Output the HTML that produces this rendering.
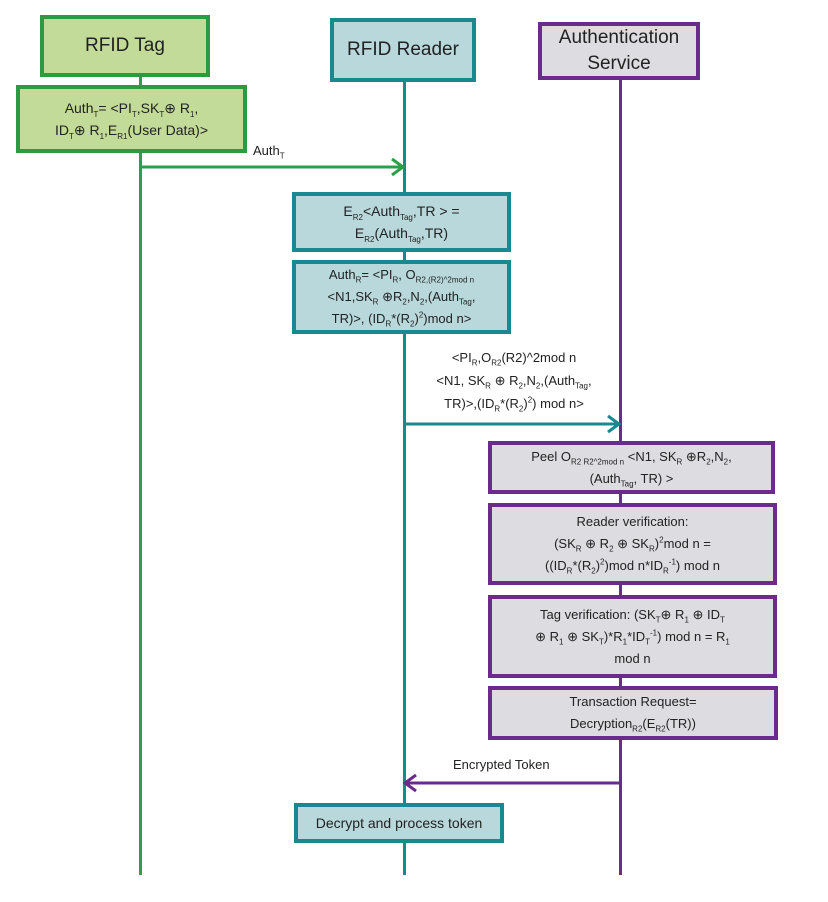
<!DOCTYPE html>
<html><head><meta charset="utf-8"><style>
body{margin:0;width:828px;height:902px;background:#fff;position:relative;overflow:hidden;font-family:"Liberation Sans",sans-serif;color:#222}
.b{position:absolute;box-sizing:border-box;display:flex;align-items:center;justify-content:center;text-align:center;font-size:14px;line-height:22px}
.b>span{display:block}
.g{background:#c3db98;border:4px solid #2c9a42}
.t{background:#b8d8dc;border:4px solid #17898f}
.p{background:#dddce1;border:4px solid #6a2b8c}
.l{position:absolute;width:3px}
.lab{position:absolute;font-size:13px;line-height:23px;text-align:center;white-space:nowrap}
sub,sup{font-size:8px;line-height:0}
</style></head><body>
<div class="l" style="left:139px;top:75px;height:800px;background:#2ca048"></div>
<div class="l" style="left:403px;top:80px;height:795px;background:#17898f"></div>
<div class="l" style="left:619px;top:78px;height:797px;background:#6a2b8c"></div>

<div class="b g" style="left:40px;top:15px;width:170px;height:62px;font-size:19px"><span>RFID Tag</span></div>
<div class="b t" style="left:330px;top:18px;width:146px;height:64px;font-size:19px"><span>RFID Reader</span></div>
<div class="b p" style="left:538px;top:22px;width:162px;height:58px;font-size:19px;line-height:26px"><span>Authentication<br>Service</span></div>

<div class="b g" style="left:16px;top:85px;width:231px;height:68px"><span>Auth<sub>T</sub>= &lt;PI<sub>T</sub>,SK<sub>T</sub>⊕ R<sub>1</sub>,<br>ID<sub>T</sub>⊕ R<sub>1</sub>,E<sub>R1</sub>(User Data)&gt;</span></div>
<div class="lab" style="left:253px;top:139px">Auth<sub>T</sub></div>

<svg style="position:absolute;left:0;top:0" width="828" height="902">
<line x1="141" y1="167" x2="403" y2="167" stroke="#2ca048" stroke-width="3"/>
<polyline points="392,159 403,167 392,175" fill="none" stroke="#2ca048" stroke-width="3"/>
<line x1="405" y1="424" x2="619" y2="424" stroke="#17898f" stroke-width="3"/>
<polyline points="608,416 619,424 608,432" fill="none" stroke="#17898f" stroke-width="3"/>
<line x1="405" y1="783" x2="619" y2="783" stroke="#6a2b8c" stroke-width="3"/>
<polyline points="416,775 405,783 416,791" fill="none" stroke="#6a2b8c" stroke-width="3"/>
</svg>

<div class="b t" style="left:292px;top:192px;width:219px;height:60px"><span>E<sub>R2</sub>&lt;Auth<sub>Tag</sub>,TR &gt; =<br>E<sub>R2</sub>(Auth<sub>Tag</sub>,TR)</span></div>
<div class="b t" style="left:292px;top:260px;width:219px;height:74px;font-size:13px;line-height:22px"><span>Auth<sub>R</sub>= &lt;PI<sub>R</sub>, O<sub>R2,(R2)^2mod n</sub><br>&lt;N1,SK<sub>R</sub> ⊕R<sub>2</sub>,N<sub>2</sub>,(Auth<sub>Tag</sub>,<br>TR)&gt;, (ID<sub>R</sub>*(R<sub>2</sub>)<sup>2</sup>)mod n&gt;</span></div>

<div class="lab" style="left:414px;top:346px;width:200px">&lt;PI<sub>R</sub>,O<sub>R2</sub>(R2)^2mod n<br>&lt;N1, SK<sub>R</sub> ⊕ R<sub>2</sub>,N<sub>2</sub>,(Auth<sub>Tag</sub>,<br>TR)&gt;,(ID<sub>R</sub>*(R<sub>2</sub>)<sup>2</sup>) mod n&gt;</div>

<div class="b p" style="left:488px;top:441px;width:287px;height:53px;font-size:13px"><span>Peel O<sub>R2 R2^2mod n</sub> &lt;N1, SK<sub>R</sub> ⊕R<sub>2</sub>,N<sub>2</sub>,<br>(Auth<sub>Tag</sub>, TR) &gt;</span></div>
<div class="b p" style="left:488px;top:503px;width:289px;height:82px;font-size:13px"><span>Reader verification:<br>(SK<sub>R</sub> ⊕ R<sub>2</sub> ⊕ SK<sub>R</sub>)<sup>2</sup>mod n =<br>((ID<sub>R</sub>*(R<sub>2</sub>)<sup>2</sup>)mod n*ID<sub>R</sub><sup>-1</sup>) mod n</span></div>
<div class="b p" style="left:488px;top:595px;width:289px;height:83px;font-size:13px"><span>Tag verification: (SK<sub>T</sub>⊕ R<sub>1</sub> ⊕ ID<sub>T</sub><br>⊕ R<sub>1</sub> ⊕ SK<sub>T</sub>)*R<sub>1</sub>*ID<sub>T</sub><sup>-1</sup>) mod n = R<sub>1</sub><br>mod n</span></div>
<div class="b p" style="left:488px;top:686px;width:290px;height:54px;font-size:13px"><span>Transaction Request=<br>Decryption<sub>R2</sub>(E<sub>R2</sub>(TR))</span></div>

<div class="lab" style="left:453px;top:753px">Encrypted Token</div>
<div class="b t" style="left:294px;top:803px;width:210px;height:40px;font-size:14px"><span>Decrypt and process token</span></div>
</body></html>
